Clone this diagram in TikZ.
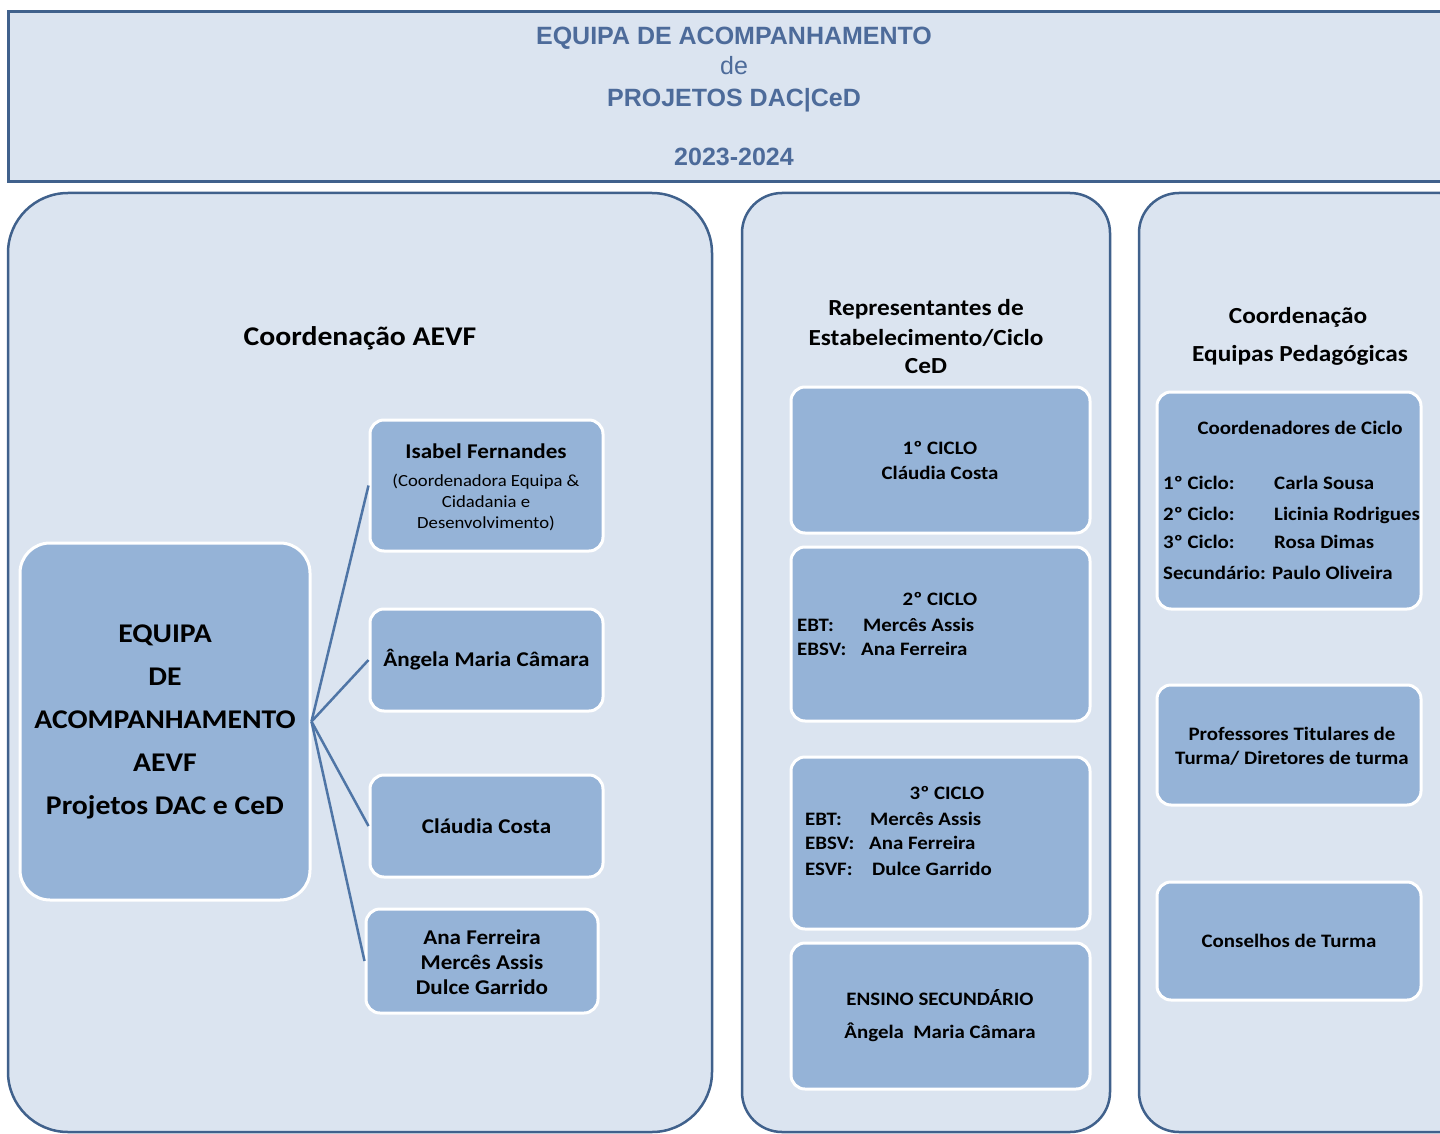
\documentclass[tikz,border=0pt]{standalone}
\usepackage{fontspec}
\setmainfont{Carlito}[FakeStretch=1.1]
\newfontfamily\titlefont{Liberation Sans}
\definecolor{panelfill}{HTML}{DBE4F0}
\definecolor{boxfill}{HTML}{95B3D7}
\definecolor{panelborder}{HTML}{40618C}
\definecolor{conn}{HTML}{4F75A6}
\definecolor{titlecol}{HTML}{4D6B9A}
\newcommand{\fs}[1]{\fontsize{#1}{#1}\selectfont}
\begin{document}
\begin{tikzpicture}[x=1pt,y=-1pt,
  panel/.style={draw=panelborder, line width=2.5pt, fill=panelfill},
  box/.style={draw=white, line width=3pt, fill=boxfill, rounded corners=14pt},
  txt/.style={inner sep=0pt, font=\bfseries, text=black},
  conline/.style={draw=conn, line width=2.5pt}]
\useasboundingbox (0,0) rectangle (1440,1134);
\clip (0,0) rectangle (1440,1134);
% title
\draw[panel, line width=3pt] (8,12) rectangle (1460,182);
\node[inner sep=0pt, text=titlecol, font=\titlefont\bfseries\fs{25}, anchor=base] (t1) at (734,45) {EQUIPA DE ACOMPANHAMENTO};
\node[inner sep=0pt, text=titlecol, font=\titlefont\fs{25}, anchor=base] (t2) at (734,75) {de};
\node[inner sep=0pt, text=titlecol, font=\titlefont\bfseries\fs{25}, anchor=base] (t3) at (734,107) {PROJETOS DAC|CeD};
\node[inner sep=0pt, text=titlecol, font=\titlefont\bfseries\fs{25}, anchor=base] (t4) at (734,166) {2023-2024};
% panels
\draw[panel, rounded corners=60pt] (8,193) rectangle (712,1132);
\draw[panel, rounded corners=40pt] (742,193) rectangle (1110,1132);
\draw[panel, rounded corners=40pt] (1139,193) rectangle (1480,1132);
% panel 1
\node[txt, font=\bfseries\fs{27}, anchor=base] (p1t) at (360,345) {Coordenação AEVF};
\node[box, minimum width=290pt, minimum height=357pt, rounded corners=30pt] (eq) at (165,721.5) {};
\node[txt, font=\bfseries\fs{27}, align=center] (eqt) at (165,722) {EQUIPA\\[16pt]DE\\[16pt]ACOMPANHAMENTO\\[16pt]AEVF\\[16pt]Projetos DAC e CeD};
\node[box, minimum width=233pt, minimum height=131pt] (isabel) at (486.5,485.5) {};
\node[txt, font=\bfseries\fs{21}, anchor=base] (isabelt) at (486,458) {Isabel Fernandes};
\node[txt, font=\fs{17}, align=center] (isabels) at (486,502) {(Coordenadora Equipa \&\\[4pt]Cidadania e\\[4pt]Desenvolvimento)};
\node[box, minimum width=233pt, minimum height=102pt] (angela) at (486.5,660) {\bfseries\fs{21}Ângela Maria Câmara};
\node[box, minimum width=233pt, minimum height=102pt] (claudia) at (486.5,826) {\bfseries\fs{21}Cláudia Costa};
\node[box, minimum width=232pt, minimum height=104pt] (ana) at (482,961) {};
\node[txt, font=\bfseries\fs{21}, align=center] (anat) at (482,962) {Ana Ferreira\\[4pt]Mercês Assis\\[4pt]Dulce Garrido};
\draw[conline] (eq.east) -- (isabel.west);
\draw[conline] (eq.east) -- (angela.west);
\draw[conline] (eq.east) -- (claudia.west);
\draw[conline] (eq.east) -- (ana.west);
% panel 2
\node[txt, font=\bfseries\fs{23}, align=center] (p2t) at (926,337) {Representantes de\\[7pt]Estabelecimento/Ciclo\\[5pt]CeD};
\node[box, minimum width=299pt, minimum height=146pt] (c1) at (940.5,460) {};
\node[txt, font=\bfseries\fs{19}, align=center] (c1t) at (940,460) {1º CICLO\\[6pt]Cláudia Costa};
\node[box, minimum width=299pt, minimum height=174pt] (c2) at (940.5,634) {};
\node[txt, font=\bfseries\fs{19}, anchor=base] (c2h) at (940,605) {2º CICLO};
\node[txt, font=\bfseries\fs{19}, anchor=base west] (c2a) at (797,631) {\makebox[66pt][l]{EBT:}Mercês Assis};
\node[txt, font=\bfseries\fs{19}, anchor=base west] (c2b) at (797,655) {\makebox[64pt][l]{EBSV:}Ana Ferreira};
\node[box, minimum width=299pt, minimum height=172pt] (c3) at (940.5,843) {};
\node[txt, font=\bfseries\fs{19}, anchor=base] (c3h) at (947,799) {3º CICLO};
\node[txt, font=\bfseries\fs{19}, anchor=base west] (c3a) at (805,825) {\makebox[65pt][l]{EBT:}Mercês Assis};
\node[txt, font=\bfseries\fs{19}, anchor=base west] (c3b) at (805,849) {\makebox[64pt][l]{EBSV:}Ana Ferreira};
\node[txt, font=\bfseries\fs{19}, anchor=base west] (c3c) at (805,875) {\makebox[67pt][l]{ESVF:}Dulce Garrido};
\node[box, minimum width=299pt, minimum height=146pt] (sec) at (940.5,1016) {};
\node[txt, font=\bfseries\fs{19}, anchor=base] (sect) at (940,1005) {ENSINO SECUNDÁRIO};
\node[txt, font=\bfseries\fs{19}, anchor=base] (secn) at (940,1038) {Ângela\ \ Maria Câmara};
% panel 3
\node[txt, font=\bfseries\fs{23}, anchor=base] (p3a) at (1298,323) {Coordenação};
\node[txt, font=\bfseries\fs{23}, anchor=base] (p3b) at (1300,361) {Equipas Pedagógicas};
\node[box, minimum width=264pt, minimum height=217pt] (coord) at (1289,500.5) {};
\node[txt, font=\bfseries\fs{19}, anchor=base] (coordt) at (1300,434) {Coordenadores de Ciclo};
\node[txt, font=\bfseries\fs{19}, anchor=base west] (cc1) at (1163,489) {\makebox[111pt][l]{1º Ciclo:}Carla Sousa};
\node[txt, font=\bfseries\fs{19}, anchor=base west] (cc2) at (1163,520) {\makebox[111pt][l]{2º Ciclo:}Licinia Rodrigues};
\node[txt, font=\bfseries\fs{19}, anchor=base west] (cc3) at (1163,548) {\makebox[111pt][l]{3º Ciclo:}Rosa Dimas};
\node[txt, font=\bfseries\fs{19}, anchor=base west] (cc4) at (1163,579) {Secundário: Paulo Oliveira};
\node[box, minimum width=264pt, minimum height=120pt] (prof) at (1289,745) {};
\node[txt, font=\bfseries\fs{19}, align=center] (proft) at (1292,746) {Professores Titulares de\\[5pt]Turma/ Diretores de turma};
\node[box, minimum width=264pt, minimum height=118pt] (cons) at (1289,941) {\bfseries\fs{19}Conselhos de Turma};
\end{tikzpicture}
\end{document}
